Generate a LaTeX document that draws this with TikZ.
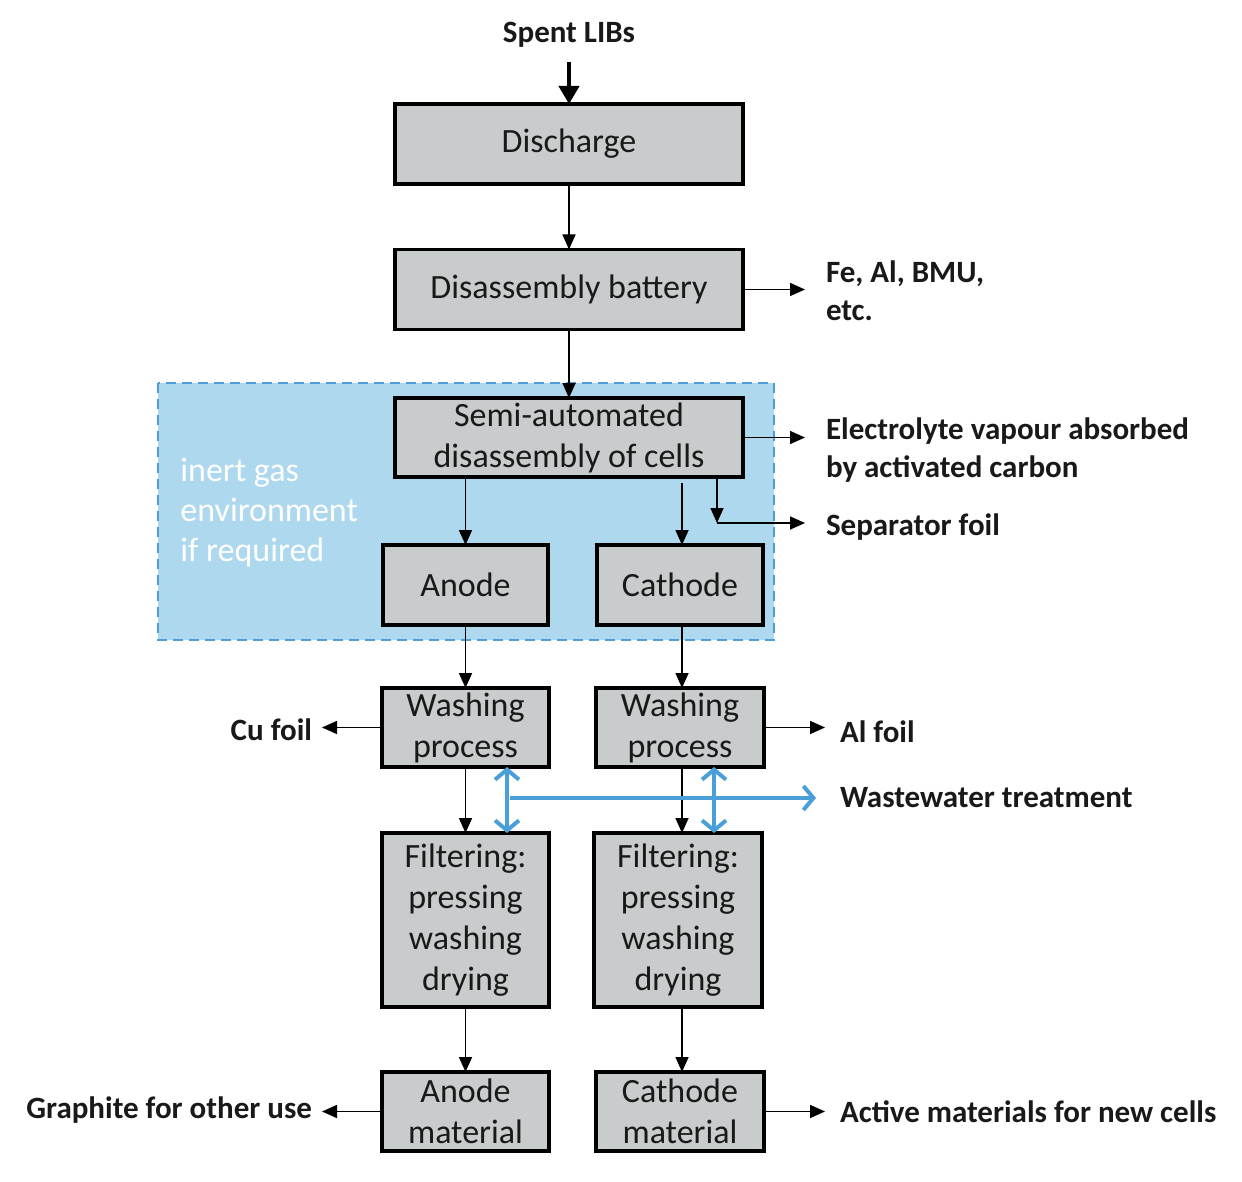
\documentclass[tikz,border=0pt]{standalone}
\usepackage{fontspec}
\setmainfont{Carlito}
\usetikzlibrary{arrows.meta}
\definecolor{boxgray}{RGB}{200,204,204}
\definecolor{regionblue}{RGB}{173,216,238}
\definecolor{flowblue}{RGB}{74,159,216}
\tikzset{
  box/.style={draw=black, line width=1.6pt, fill=boxgray, inner sep=0pt, outer sep=0pt,
    align=center, font=\fontsize{17}{20.5}\selectfont, text=black!90},
  lbl/.style={inner sep=0pt, outer sep=0pt, font=\bfseries\fontsize{15.5}{19}\selectfont, text=black!90},
  arr/.style={line width=0.8pt, -{Triangle[length=7.5pt,width=6.5pt]}},
  barr/.style={line width=2pt, draw=flowblue, {Straight Barb[length=5pt,width=12pt]}-{Straight Barb[length=5pt,width=12pt]}},
  barrone/.style={line width=2pt, draw=flowblue, -{Straight Barb[length=5pt,width=12pt]}},
}
\begin{document}
\begin{tikzpicture}[x=0.5pt,y=-0.5pt]
\useasboundingbox (0,0) rectangle (1242,1182);
% inert gas region
\draw[draw=flowblue, fill=regionblue, line width=1pt, dash pattern=on 5pt off 3pt] (158,383) rectangle (774,640);
\node[inner sep=0pt, anchor=west, align=left, text=white, font=\fontsize{17}{20}\selectfont] (inert) at (180,513) {inert gas\\environment\\if required};

% boxes
\node[box, minimum width=174pt, minimum height=40pt] (dis) at (569,144) {Discharge};
\node[box, minimum width=174pt, minimum height=40pt] (dbat) at (569,289.5) {Disassembly battery};
\node[box, minimum width=174pt, minimum height=39.5pt] (semi) at (569,437.5) {Semi-automated\\disassembly of cells};
\node[box, minimum width=82.5pt, minimum height=40pt] (anode) at (465.5,585) {Anode};
\node[box, minimum width=83pt, minimum height=40pt] (cath) at (680,585) {Cathode};
\node[box, minimum width=83.5pt, minimum height=39.5pt] (washL) at (465.5,727.5) {Washing\\process};
\node[box, minimum width=84pt, minimum height=39.5pt] (washR) at (680,727.5) {Washing\\process};
\node[box, minimum width=83.5pt, minimum height=87pt] (filtL) at (465.5,920) {Filtering:\\pressing\\washing\\drying};
\node[box, minimum width=84pt, minimum height=87pt] (filtR) at (678,920) {Filtering:\\pressing\\washing\\drying};
\node[box, minimum width=83.5pt, minimum height=39.5pt] (matL) at (465.5,1111.5) {Anode\\material};
\node[box, minimum width=84pt, minimum height=39.5pt] (matR) at (680,1111.5) {Cathode\\material};

% labels
\node[lbl] (spent) at (569,35) {Spent LIBs};
\node[lbl, anchor=west, align=left] (fe) at (826,291) {Fe, Al, BMU,\\etc.};
\node[lbl, anchor=west, align=left] (elec) at (826,450) {Electrolyte vapour absorbed\\by activated carbon};
\node[lbl, anchor=west] (sep) at (826,527) {Separator foil};
\node[lbl, anchor=east] (cu) at (312,730) {Cu foil};
\node[lbl, anchor=west] (al) at (840,732) {Al foil};
\node[lbl, anchor=west] (ww) at (840,798) {Wastewater treatment};
\node[lbl, anchor=east] (graph) at (312,1110) {Graphite for other use};
\node[lbl, anchor=west] (act) at (840,1112) {Active materials for new cells};

% helper coordinates
\coordinate (spentb) at (569,62);
\coordinate (sepc) at (717,523);
\coordinate (rx) at (805,0);
\coordinate (lx) at (322,0);
\coordinate (rx2) at (825,0);
\coordinate (cs) at (682,483);
\coordinate (wwL) at (507,0);
\coordinate (wwR) at (714,0);
\coordinate (wwh) at (510,798);
\coordinate (wwe) at (816,798);

% main flow
\draw[line width=2pt, -{Triangle[length=9pt,width=10pt]}] (spentb) -- (dis.north);
\draw[arr] (dis.south) -- (dbat.north);
\draw[arr] (dbat.east) -- (dbat.east -| rx);
\draw[arr] (dbat.south) -- (semi.north);
\draw[arr] (semi.east) -- (semi.east -| rx);
\draw[arr] (semi.south -| sepc) -- (sepc);
\draw[arr] (sepc) -- (sepc -| rx);
\draw[arr] (semi.south -| anode.north) -- (anode.north);
\draw[arr] (cs) -- (cs |- cath.north);
\draw[arr] (anode.south) -- (washL.north);
\draw[arr] (cs |- cath.south) -- (cs |- washR.north);
\draw[arr] (washL.west) -- (washL.west -| lx);
\draw[arr] (washR.east) -- (washR.east -| rx2);
\draw[arr] (washL.south) -- (filtL.north);
\draw[arr] (cs |- washR.south) -- (cs |- filtR.north);
\draw[arr] (filtL.south) -- (matL.north);
\draw[arr] (cs |- filtR.south) -- (cs |- matR.north);
\draw[arr] (matL.west) -- (matL.west -| lx);
\draw[arr] (matR.east) -- (matR.east -| rx2);

% wastewater
\draw[barrone] (wwh) -- (wwe);
\draw[barr] (wwL |- washL.south) -- (wwL |- filtL.north);
\draw[barr] (wwR |- washR.south) -- (wwR |- filtR.north);
\end{tikzpicture}
\end{document}
